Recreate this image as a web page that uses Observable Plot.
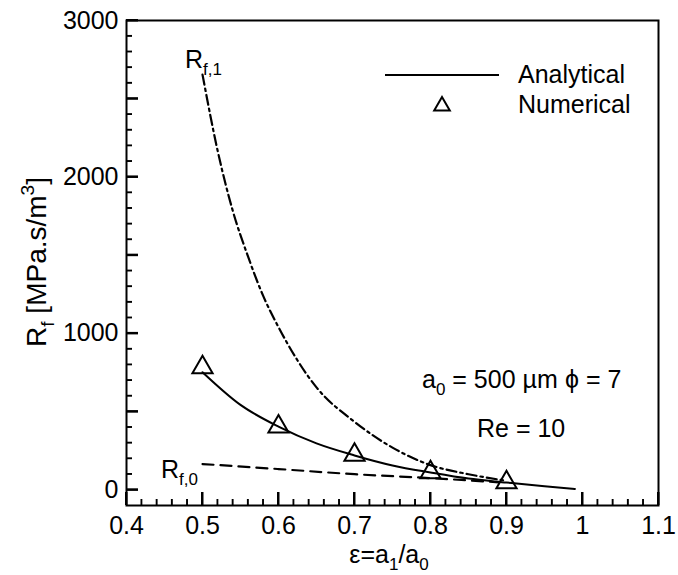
<!DOCTYPE html>
<html><head><meta charset="utf-8">
<script src="https://cdn.jsdelivr.net/npm/d3@7"></script>
<script src="https://cdn.jsdelivr.net/npm/@observablehq/plot@0.6"></script>
<style>body{margin:0;background:#fff} #chart{position:relative;width:678px;height:575px} #overlay{position:absolute;left:0;top:0;pointer-events:none}</style>
</head><body><div id="chart"></div>
<script>
// ---- data ----
const numericalEps = [0.5, 0.6, 0.7, 0.8, 0.9];
const numericalRf  = [782, 404, 224, 111, 47];

const analyticalEps = [0.5, 0.55, 0.6, 0.65, 0.7, 0.75, 0.8, 0.85, 0.9, 0.95, 0.99];
const analyticalRf  = [752, 543, 404, 297, 220, 156, 111, 72, 47, 23, 6];

const rf1Eps = [0.5, 0.52, 0.54, 0.56, 0.58, 0.6, 0.65, 0.7, 0.75, 0.8, 0.85, 0.9];
const rf1Val = [2654, 2166, 1781, 1490, 1238, 1040, 655, 435, 270, 158, 100, 58];

const rf0Eps = [0.5, 0.6, 0.7, 0.8, 0.89];
const rf0Val = [165, 133, 100, 75, 48];

const xTickLabels = [0.4, 0.5, 0.6, 0.7, 0.8, 0.9, 1.0, 1.1];
const yTickLabels = [0, 1000, 2000, 3000];

// ---- layout ----
const FONT = '"Liberation Sans", Arial, Helvetica, sans-serif';
const W = 678, H = 575, mL = 126, mR = 20, mT = 20, mB = 70;
const plotW = W - mL - mR, plotH = H - mT - mB;
const FS = 25;
const xDom = [0.4, 1.1], yDom = [-100, 3000];
const xPerPx = (xDom[1] - xDom[0]) / plotW;
const yPerPx = (yDom[1] - yDom[0]) / plotH;

const steps = (a, b, s) => d3.range(Math.round((b - a) / s) + 1).map(i => +(a + i * s).toFixed(4));
const xMajor = steps(0.4, 1.1, 0.1);
const xMinor = steps(0.4, 1.1, 0.02).filter(v => !xMajor.some(m => Math.abs(m - v) < 1e-6));
const yMajor = steps(0, 3000, 500);
const yMinor = steps(0, 3000, 100).filter(v => v % 500 !== 0);

const toXY = (xs, ys) => xs.map((x, i) => ({x, y: ys[i]}));
const numerical = toXY(numericalEps, numericalRf);
const analytical = toXY(analyticalEps, analyticalRf);
const rf1 = toXY(rf1Eps, rf1Val);
const rf0 = toXY(rf0Eps, rf0Val);

// inward tick as a small filled rectangle (length and width in px)
const xTickRect = (vals, len, w) => Plot.rect(vals, {
  x1: d => d - (w / 2) * xPerPx, x2: d => d + (w / 2) * xPerPx,
  y1: yDom[0], y2: yDom[0] + len * yPerPx, fill: "#000"});
const yTickRect = (vals, len, w) => Plot.rect(vals, {
  y1: d => d - (w / 2) * yPerPx, y2: d => d + (w / 2) * yPerPx,
  x1: xDom[0], x2: xDom[0] + len * xPerPx, fill: "#000"});

const chart = Plot.plot({
  width: W, height: H,
  marginLeft: mL, marginRight: mR, marginTop: mT, marginBottom: mB,
  style: {fontFamily: FONT, fontSize: FS + "px", background: "#fff", color: "#000", overflow: "visible"},
  x: {domain: xDom},
  y: {domain: yDom},
  marks: [
    Plot.axisX(xTickLabels, {tickSize: 0, tickPadding: 11, label: null, tickFormat: d => d3.format("~g")(d)}),
    Plot.axisY(yTickLabels, {tickSize: 0, tickPadding: 8, label: null, tickFormat: d => String(d)}),
    // inward ticks
    Plot.ruleX(xMajor, {x: d => d, y1: yDom[0], y2: yDom[0] + 13 * yPerPx, stroke: "#000", strokeWidth: 2}),
    Plot.ruleX(xMinor, {x: d => d, y1: yDom[0], y2: yDom[0] + 6 * yPerPx, stroke: "#000", strokeWidth: 1.3}),
    Plot.ruleY(yMajor, {y: d => d, x1: xDom[0], x2: xDom[0] + 12 * xPerPx, stroke: "#000", strokeWidth: 2}),
    Plot.ruleY(yMinor, {y: d => d, x1: xDom[0], x2: xDom[0] + 6 * xPerPx, stroke: "#000", strokeWidth: 1.3}),
    xTickRect(xMajor, 13, 2), xTickRect(xMinor, 6, 1.4),
    yTickRect(yMajor, 12, 2), yTickRect(yMinor, 6, 1.4),
    Plot.line(rf1, {x: "x", y: "y", stroke: "#000", strokeWidth: 2.2, strokeDasharray: "10,4,2.5,4", curve: "monotone-x"}),
    Plot.line(rf0, {x: "x", y: "y", stroke: "#000", strokeWidth: 2.2, strokeDasharray: "11,7", curve: "monotone-x"}),
    Plot.line(analytical, {x: "x", y: "y", stroke: "#000", strokeWidth: 2, curve: "monotone-x"}),
    Plot.dot(numerical, {x: "x", y: "y", symbol: "triangle", r: 7.5, stroke: "#000", strokeWidth: 2, fill: "none"}),
    Plot.frame({stroke: "#000", strokeWidth: 2})
  ]
});
const host = document.getElementById("chart");
host.append(chart);

// ---- overlay (positioned with the plot's own scales) ----
const sx = chart.scale("x"), sy = chart.scale("y");
const overlay = d3.select(host).append("svg").attr("id", "overlay").attr("width", W).attr("height", H);

function rich(parent, x, y, parts, {size = FS, anchor = "start"} = {}) {
  const t = parent.append("text").attr("x", x).attr("y", y)
    .attr("font-family", FONT).attr("font-size", size).attr("fill", "#000")
    .attr("text-anchor", anchor);
  let shift = 0;
  for (const p of parts) {
    const s = t.append("tspan");
    if (typeof p === "string") { s.attr("dy", -shift).text(p); shift = 0; }
    else if (p.sub) { const d = 0.28 * size; s.attr("dy", d - shift).attr("font-size", size * 0.68).text(p.sub); shift = d; }
    else if (p.sup) { const d = -0.42 * size; s.attr("dy", d - shift).attr("font-size", size * 0.68).text(p.sup); shift = d; }
  }
  return t;
}
// curve labels
rich(overlay, sx.apply(rf1Eps[0]) - 17, sy.apply(rf1Val[0]) - 6, ["R", {sub: "f,1"}]);
rich(overlay, sx.apply(rf0Eps[0]) - 41, sy.apply(rf0Val[0]) + 14, ["R", {sub: "f,0"}]);
// legend
overlay.append("path").attr("d", "M385,75H499").attr("stroke", "#000").attr("stroke-width", 2).attr("fill", "none");
overlay.append("path").attr("d", d3.symbol(d3.symbolTriangle, Math.PI * 5.8 * 5.8)()).attr("transform", "translate(442,106)")
  .attr("fill", "none").attr("stroke", "#000").attr("stroke-width", 2);
rich(overlay, 518, 83, ["Analytical"]);
rich(overlay, 518, 113, ["Numerical"]);
// parameters
rich(overlay, 422, 388, ["a", {sub: "0"}, " = 500 \u00b5m"]);
rich(overlay, 565, 388, ["\u03d5 = 7"]);
rich(overlay, 477, 437, ["Re = 10"]);
// axis titles
rich(overlay, 389, 563, ["\u03b5=a", {sub: "1"}, "/a", {sub: "0"}], {anchor: "middle"});
const yt = overlay.append("g").attr("transform", "translate(46,262) rotate(-90)");
rich(yt, 0, 0, ["R", {sub: "f"}, " [MPa.s/m", {sup: "3"}, "]"], {anchor: "middle", size: 28});
</script>
</body></html>
